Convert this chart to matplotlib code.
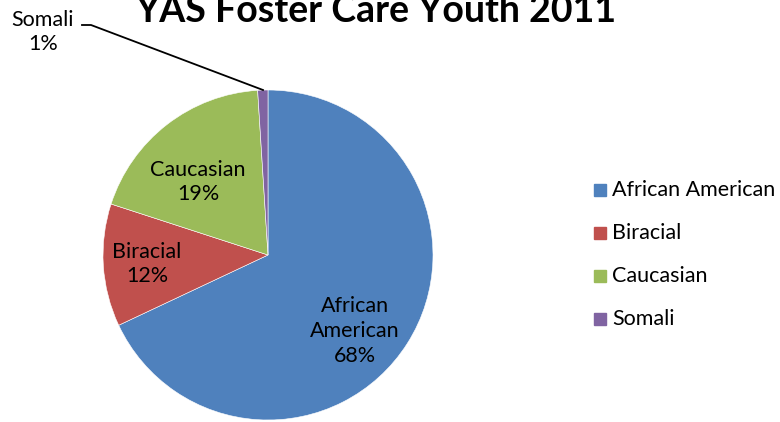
import matplotlib
matplotlib.use("Agg")
import matplotlib.pyplot as plt
from matplotlib.patches import Rectangle

categories = ["African American", "Biracial", "Caucasian", "Somali"]
values = [68, 12, 19, 1]
colors = ["#4F81BD", "#C0504D", "#9BBB59", "#8064A2"]
title = "YAS Foster Care Youth 2011"

W, H = 780, 422
fig = plt.figure(figsize=(W / 100, H / 100), dpi=100)
ax = fig.add_axes([0, 0, 1, 1])

fam = ["Lato", "DejaVu Sans"]
cx, cy, r = 268, H - 255, 165
wedges, _ = ax.pie(values, colors=colors, startangle=90, counterclock=False,
                   center=(cx, cy), radius=r, frame=True,
                   wedgeprops=dict(linewidth=0.4, edgecolor="white"))
ax.set_xlim(0, W)
ax.set_ylim(0, H)
ax.set_aspect("equal")
ax.axis("off")

fs = 15.5
ls = 1.3
ax.text(355, H - 331, f"African\nAmerican\n{values[0]}%", ha="center", va="center",
        fontsize=fs, family=fam, linespacing=ls)
ax.text(147, H - 264, f"Biracial\n{values[1]}%", ha="center", va="center",
        fontsize=fs, family=fam, linespacing=ls)
ax.text(198, H - 182, f"Caucasian\n{values[2]}%", ha="center", va="center",
        fontsize=fs, family=fam, linespacing=ls)
ax.text(43, H - 32, f"Somali\n{values[3]}%", ha="center", va="center",
        fontsize=fs, family=fam, linespacing=ls)
ax.plot([82, 91, 263], [H - 25, H - 25, H - 90], color="black", lw=1.3)

ax.text(376, H - 22, title, ha="center", va="baseline", fontsize=27,
        fontweight="bold", family=fam)

for i, (cat, col) in enumerate(zip(categories, colors)):
    y = H - (190 + 43 * i)
    ax.add_patch(Rectangle((594, y - 6), 12, 12, color=col))
    ax.text(612, y, cat, ha="left", va="center", fontsize=fs, family=fam)

fig.savefig("out.png", dpi=100)
